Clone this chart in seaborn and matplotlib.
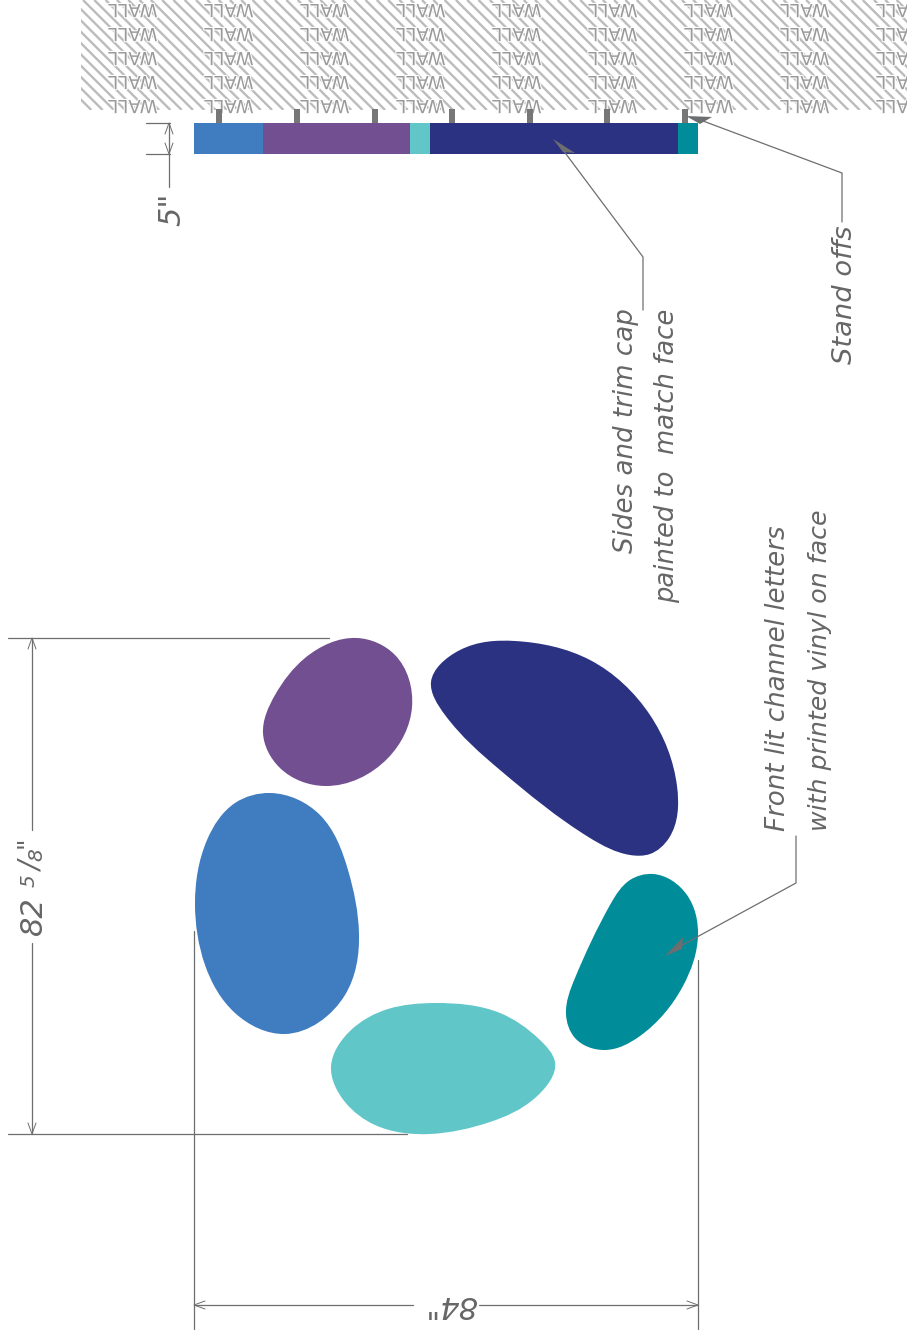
import numpy as np
import matplotlib
matplotlib.use('Agg')
import matplotlib.pyplot as plt
import matplotlib.patheffects as pe
from matplotlib.path import Path
from matplotlib.patches import PathPatch, Polygon, Rectangle
import seaborn as sns

# letter outlines (pixels)
purple_x = [357, 395, 412, 388, 325, 280, 263, 275, 305]
purple_y = [638, 655, 707, 758, 786, 768, 733, 695, 658]
blue_x = [270, 320, 348, 359, 345, 285, 235, 205, 195, 207, 235]
blue_y = [793, 815, 870, 934, 995, 1034, 1013, 965, 904, 840, 803]
light_x = [435, 500, 540, 555, 535, 490, 430, 375, 345, 331, 350, 388]
light_y = [1003, 1013, 1040, 1062, 1098, 1122, 1134, 1125, 1102, 1067, 1031, 1009]
navy_x = [515, 590, 650, 677, 669, 650, 630, 590, 500, 445, 431, 460]
navy_y = [641, 660, 715, 786, 838, 854, 855, 838, 770, 715, 682, 650]
teal_x = [653, 687, 698, 683, 640, 605, 575, 566, 575, 610, 630]
teal_y = [874, 895, 935, 986, 1036, 1050, 1038, 1014, 978, 905, 880]

# side view
side_edges = [194, 263, 410, 430, 678, 698]
side_colors = ['#407cc0', '#714f91', '#61c6c8', '#2b3282', '#008c99']
standoff_x = [219, 297, 375, 452, 530, 607, 685]
wall_text_x = [133, 229, 325, 421, 517, 613, 709, 805, 901]
wall_text_y = [9, 33, 57, 81, 105]

LINE = '#6d6e70'
TEXT = '#666666'

sns.set_style('white')
plt.rcParams['font.family'] = ['DejaVu Sans']

fig = plt.figure(figsize=(9.07, 13.34), dpi=100)
ax = fig.add_axes([0, 0, 1, 1])
ax.set_xlim(0, 907)
ax.set_ylim(1334, 0)
ax.axis('off')


def blob(xs, ys, color):
    # closed C2 spline through the read points, written out as bezier pieces
    p = np.column_stack([xs, ys]).astype(float)
    n = len(p)
    h = np.linalg.norm(np.roll(p, -1, axis=0) - p, axis=1)
    A = np.zeros((n, n))
    b = np.zeros((n, 2))
    for i in range(n):
        hp, hn = h[i - 1], h[i]
        A[i, (i - 1) % n] += hn
        A[i, i] += 2 * (hp + hn)
        A[i, (i + 1) % n] += hp
        b[i] = 3 * (hn * (p[i] - p[i - 1]) / hp + hp * (p[(i + 1) % n] - p[i]) / hn)
    d = np.linalg.solve(A, b)
    verts = [p[0]]
    codes = [Path.MOVETO]
    for i in range(n):
        j = (i + 1) % n
        verts += [p[i] + d[i] * h[i] / 3, p[j] - d[j] * h[i] / 3, p[j]]
        codes += [Path.CURVE4] * 3
    ax.add_patch(PathPatch(Path(verts, codes), fc=color, ec='none', zorder=2))


def seg(xs, ys, lw=0.9, color=LINE, z=3):
    sns.lineplot(x=xs, y=ys, ax=ax, color=color, lw=lw, sort=False, estimator=None,
                 legend=False, zorder=z)


def open_head(x, y, dx, dy, size=11, spread=4):
    # two strokes back from the tip
    nx, ny = -dy, dx
    seg([x + dx * size + nx * spread, x, x + dx * size - nx * spread],
        [y + dy * size + ny * spread, y, y + dy * size - ny * spread], lw=0.7)


def solid_head(pts):
    ax.add_patch(Polygon(pts, closed=True, fc=LINE, ec='none', zorder=5))


blob(purple_x, purple_y, side_colors[1])
blob(blue_x, blue_y, side_colors[0])
blob(light_x, light_y, side_colors[2])
blob(navy_x, navy_y, side_colors[3])
blob(teal_x, teal_y, side_colors[4])

# wall hatch
clip = Rectangle((81, 0), 826, 110, transform=ax.transData)
for c in np.arange(-30, 907, 11.3):
    line, = ax.plot([c, c + 110], [0, 110], color='#bcbcbc', lw=1.7, zorder=1, solid_capstyle='butt')
    line.set_clip_path(clip)
halo = [pe.withStroke(linewidth=1.6, foreground='white')]
for tx in wall_text_x:
    for ty in wall_text_y:
        t = ax.text(tx, ty, 'WALL', rotation=180, ha='center', va='center', fontsize=13,
                    color='#9a9a9a', zorder=2, path_effects=halo)
        t.set_clip_path(clip)

# side view bar and stand offs
for i, col in enumerate(side_colors):
    ax.barh(138.5, side_edges[i + 1] - side_edges[i], height=31, left=side_edges[i],
            color=col, lw=0, zorder=2)
for sx in standoff_x:
    ax.bar(sx, 14, width=6, bottom=109, color='#777777', lw=0, zorder=3)

# 82 5/8 dimension
seg([8, 329], [638, 638])
seg([8, 407], [1134, 1134])
seg([32, 32], [638, 830])
seg([32, 32], [943, 1134])
open_head(32, 638, 0, 1)
open_head(32, 1134, 0, -1)
big = dict(rotation=90, ha='center', va='center', color=TEXT, style='oblique')
ax.text(33, 916, '82', fontsize=22, **big)
ax.text(29.5, 881, '5', fontsize=14.5, **big)
ax.text(33, 867, '/', fontsize=20, **big)
ax.text(36.5, 855, '8', fontsize=14.5, **big)
ax.text(27, 842, '"', fontsize=18, **big)

# 84 dimension
seg([194, 194], [931, 1329])
seg([698, 698], [960, 1329])
seg([194, 413], [1305, 1305])
seg([479, 698], [1305, 1305])
open_head(194, 1305, 1, 0)
open_head(698, 1305, -1, 0)
ax.text(450, 1304, '84"', rotation=180, ha='center', va='center', fontsize=22,
        color=TEXT, style='oblique')

# 5 dimension
seg([146, 170], [123, 123])
seg([146, 170], [154, 154])
seg([169, 169], [123, 187])
open_head(169, 123, 0, 1)
open_head(169, 154, 0, -1)
ax.text(172, 209, '5"', fontsize=22, **big)

# leaders
seg([643, 643, 560], [310, 257, 146])
solid_head([(553, 139), (575, 153), (563, 152)])
seg([842, 842, 695], [222, 173, 118])
solid_head([(686, 116), (712, 117), (700, 124)])
seg([796, 796, 675], [836, 883, 949])
solid_head([(665, 956), (683, 937), (682, 949)])

# notes
note = dict(rotation=90, color=TEXT, style='oblique', ha='center', va='bottom')
ax.text(626, 553, 'Sides and trim cap', fontsize=18.8, **note)
ax.text(667, 603, 'painted to  match face', fontsize=18.6, **note)
ax.text(845, 364, 'Stand offs', fontsize=19.7, **note)
ax.text(778, 831, 'Front lit channel letters', fontsize=18.8, **note)
ax.text(820, 831, 'with printed vinyl on face', fontsize=18.2, **note)

fig.savefig('out.png', dpi=100)
